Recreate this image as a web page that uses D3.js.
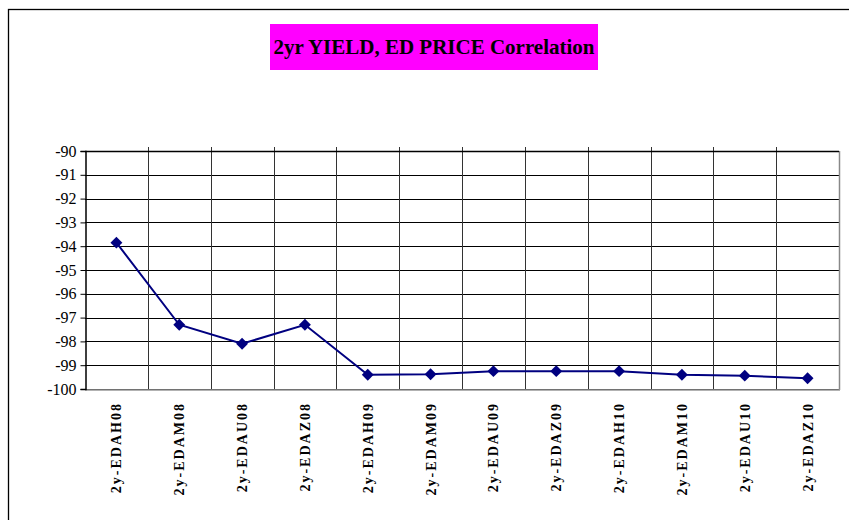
<!DOCTYPE html>
<html><head><meta charset="utf-8">
<script src="https://cdn.jsdelivr.net/npm/d3@7"></script>
<style>body{margin:0;background:#fff}svg{display:block}</style>
</head><body>
<script>
const categories = ["2y-EDAH08","2y-EDAM08","2y-EDAU08","2y-EDAZ08","2y-EDAH09","2y-EDAM09","2y-EDAU09","2y-EDAZ09","2y-EDAH10","2y-EDAM10","2y-EDAU10","2y-EDAZ10"];
const values = [-93.85,-97.3,-98.1,-97.3,-99.4,-99.38,-99.25,-99.25,-99.25,-99.4,-99.44,-99.55];
const yTicks = [-90,-91,-92,-93,-94,-95,-96,-97,-98,-99,-100];
const title = "2yr YIELD, ED PRICE Correlation";

const W = 849, H = 520;
const svg = d3.select("body").append("svg").attr("width", W).attr("height", H);
const m = {left: 85, top: 151, right: 839, bottom: 389};

// outer chart border
svg.append("rect").attr("x", 8.5).attr("y", 9.5).attr("width", 900).attr("height", 600)
  .attr("fill", "none").attr("stroke", "#000").attr("stroke-width", 1.3);

// title
svg.append("rect").attr("x", 270).attr("y", 24).attr("width", 328).attr("height", 46).attr("fill", "#ff00ff");
svg.append("text").attr("x", 434).attr("y", 54).attr("text-anchor", "middle")
  .attr("font-family", "Liberation Serif, serif").attr("font-weight", "bold").attr("font-size", 21)
  .attr("fill", "#000").text(title);

const x = d3.scaleBand().domain(categories).range([m.left, m.right]);
const y = d3.scaleLinear().domain([-100, -90]).range([m.bottom, m.top]);

// horizontal gridlines
svg.append("g").selectAll("line").data(yTicks).join("line")
  .attr("x1", m.left).attr("x2", m.right)
  .attr("y1", d => Math.round(y(d)) + 0.5).attr("y2", d => Math.round(y(d)) + 0.5)
  .attr("stroke", "#000").attr("stroke-width", 1);

// vertical gridlines
svg.append("g").selectAll("line").data(categories.slice(1)).join("line")
  .attr("x1", d => Math.round(x(d)) + 0.5).attr("x2", d => Math.round(x(d)) + 0.5)
  .attr("y1", m.top - 4).attr("y2", m.bottom)
  .attr("stroke", "#333").attr("stroke-width", 1);

// plot border right/bottom
svg.append("line").attr("x1", m.right + 0.5).attr("x2", m.right + 0.5).attr("y1", m.top).attr("y2", m.bottom + 1)
  .attr("stroke", "#888").attr("stroke-width", 1.5);
svg.append("line").attr("x1", m.left).attr("x2", m.right + 1).attr("y1", m.bottom + 1).attr("y2", m.bottom + 1)
  .attr("stroke", "#999").attr("stroke-width", 1.5);

// y axis
const yAxis = svg.append("g").attr("transform", `translate(${m.left + 0.5},0)`)
  .call(d3.axisLeft(y).tickValues(yTicks).tickSize(5).tickPadding(4).tickFormat(d => String(d)));
yAxis.select(".domain").attr("stroke", "#000").attr("stroke-width", 1.5);
yAxis.selectAll(".tick line").attr("stroke", "#000");
yAxis.selectAll("text").attr("font-family", "Liberation Serif, serif").attr("font-size", 16).attr("fill", "#000");

// top category axis line (axis crossing)
svg.append("line").attr("x1", m.left).attr("x2", m.right).attr("y1", m.top + 0.5).attr("y2", m.top + 0.5)
  .attr("stroke", "#000").attr("stroke-width", 1.5);

// x labels
svg.append("g").selectAll("text").data(categories).join("text")
  .attr("transform", d => `translate(${x(d) + x.bandwidth() / 2 + 5},402) rotate(-90)`)
  .attr("text-anchor", "end")
  .attr("font-family", "Liberation Serif, serif").attr("font-weight", "bold").attr("font-size", 14)
  .attr("letter-spacing", 2).attr("fill", "#000").text(d => d);

// line
const line = d3.line().x((d, i) => x(categories[i]) + x.bandwidth() / 2).y(d => y(d));
svg.append("path").datum(values).attr("d", line).attr("fill", "none")
  .attr("stroke", "#000080").attr("stroke-width", 2);

// markers
svg.append("g").selectAll("path").data(values).join("path")
  .attr("d", d3.symbol().type(d3.symbolDiamond2).size(90))
  .attr("transform", (d, i) => `translate(${x(categories[i]) + x.bandwidth() / 2},${y(d)})`)
  .attr("fill", "#000080");
</script>
</body></html>
